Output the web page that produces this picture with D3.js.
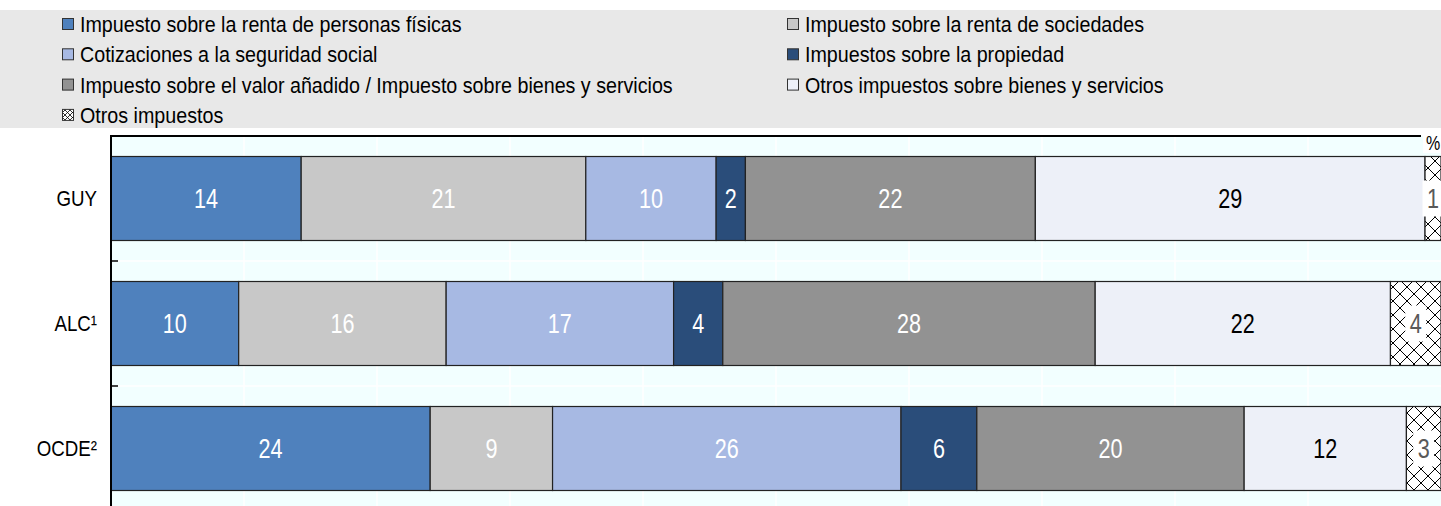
<!DOCTYPE html>
<html><head><meta charset="utf-8">
<script src="https://cdn.jsdelivr.net/npm/d3@7"></script>
<style>
body{margin:0;background:#fff}
svg{display:block}
text{font-family:"Liberation Sans",Arial,sans-serif}
</style>
</head><body>
<svg id="chart" width="1441" height="506"></svg>
<script>
// ---- data ----
const categories = ["GUY", "ALC¹", "OCDE²"];
const seriesNames = [
  "Impuesto sobre la renta de personas físicas",
  "Impuesto sobre la renta de sociedades",
  "Cotizaciones a la seguridad social",
  "Impuestos sobre la propiedad",
  "Impuesto sobre el valor añadido / Impuesto sobre bienes y servicios",
  "Otros impuestos sobre bienes y servicios",
  "Otros impuestos"
];
const valuesGUY  = [14.3, 21.4,  9.8, 2.2, 21.8, 29.3, 1.2];
const valuesALC  = [ 9.6, 15.6, 17.1, 3.7, 28.0, 22.2, 3.8];
const valuesOCDE = [24.0,  9.2, 26.2, 5.7, 20.1, 12.2, 2.6];
const xTicks = [0, 10, 20, 30, 40, 50, 60, 70, 80, 90, 100];
const unitLabel = "%";

// ---- styles ----
const colors = ["#4f81bd", "#c8c8c8", "#a7b9e3", "#2a4d7a", "#929292", "#edf0f8", "url(#hatch)"];
const labelColors = ["#fff", "#fff", "#fff", "#fff", "#fff", "#000", "#595959"];

const svg = d3.select("#chart");
const W = 1441, H = 506;
const mLeft = 111, mRight = 1441, mTop = 136;

// condensed text helper (scaled horizontally)
function ctext(parent, tx, ty, str, size, k, anchor, fill) {
  return parent.append("text")
    .attr("transform", `translate(${tx},${ty}) scale(${k},1)`)
    .attr("dy", "0.36em").attr("text-anchor", anchor)
    .attr("font-size", size).attr("fill", fill).text(str);
}

// hatch pattern
const defs = svg.append("defs");
const pat = defs.append("pattern").attr("id", "hatch").attr("patternUnits", "userSpaceOnUse")
  .attr("width", 14).attr("height", 14);
pat.append("rect").attr("width", 14).attr("height", 14).attr("fill", "#fff");
pat.append("path").attr("d", "M0,0L14,14M14,0L0,14").attr("stroke", "#000").attr("stroke-width", 1);
const pat2 = defs.append("pattern").attr("id", "hatchSmall").attr("patternUnits", "userSpaceOnUse")
  .attr("width", 5).attr("height", 5);
pat2.append("rect").attr("width", 5).attr("height", 5).attr("fill", "#fff");
pat2.append("path").attr("d", "M0,0L5,5M5,0L0,5").attr("stroke", "#000").attr("stroke-width", 0.8);

// legend background
svg.append("rect").attr("x", 0).attr("y", 10).attr("width", W).attr("height", 118).attr("fill", "#e8e8e8");

// legend
const leg = svg.append("g");
seriesNames.forEach((name, i) => {
  const col = i % 2, row = Math.floor(i / 2);
  const lx = col === 0 ? 62 : 787;
  const ly = 24 + row * 30.3;
  leg.append("rect").attr("x", lx + 0.5).attr("y", ly - 5.5).attr("width", 11).attr("height", 11)
    .attr("fill", i === 6 ? "url(#hatchSmall)" : colors[i]).attr("stroke", "#333").attr("stroke-width", 1);
  ctext(leg, lx + 18, ly, name, 22, 0.895, "start", "#000");
});

// scales
const x = d3.scaleLinear().domain([0, 100]).range([mLeft, mRight]);
const y = d3.scaleBand().domain(categories).range([mTop, mTop + 375]).paddingInner(0.328).paddingOuter(0.164);

// plot background
svg.append("rect").attr("x", mLeft).attr("y", mTop).attr("width", mRight - mLeft).attr("height", H - mTop).attr("fill", "#f2ffff");

// gridlines
svg.append("g").selectAll("line").data(xTicks.slice(1, -1)).join("line")
  .attr("x1", d => x(d)).attr("x2", d => x(d)).attr("y1", mTop).attr("y2", H)
  .attr("stroke", "#fff").attr("stroke-width", 1.5);
const bounds = categories.map(c => y(c) + y.bandwidth() + y.step() * y.paddingInner() / 2);
svg.append("g").selectAll("line").data(bounds).join("line")
  .attr("x1", mLeft).attr("x2", mRight).attr("y1", d => d).attr("y2", d => d)
  .attr("stroke", "#fff").attr("stroke-width", 1.5);

// data table
const table = categories.map((c, i) => {
  const vals = [valuesGUY, valuesALC, valuesOCDE][i];
  const o = { cat: c };
  seriesNames.forEach((s, j) => o[s] = vals[j]);
  return o;
});
const stack = d3.stack().keys(seriesNames)(table);

const gBars = svg.append("g");
stack.forEach((layer, si) => {
  gBars.append("g").selectAll("rect").data(layer).join("rect")
    .attr("x", d => x(d[0])).attr("y", d => y(d.data.cat))
    .attr("width", d => x(d[1]) - x(d[0])).attr("height", y.bandwidth())
    .attr("fill", colors[si]).attr("stroke", "#222").attr("stroke-width", 1.2);
});

// labels
const gLab = svg.append("g");
stack.forEach((layer, si) => {
  layer.forEach(d => {
    const cx = (x(d[0]) + x(d[1])) / 2;
    const cy = y(d.data.cat) + y.bandwidth() / 2;
    const txt = String(Math.round(d[1] - d[0]));
    if (si === 6) {
      const g = gLab.append("g");
      g.append("rect").attr("fill", "#fff")
        .attr("x", cx - 10.5).attr("y", cy - 18).attr("width", 21).attr("height", 36);
      ctext(g, cx, cy, txt, 27, 0.8, "middle", labelColors[si]);
    } else {
      ctext(gLab, cx, cy, txt, 27, 0.8, "middle", labelColors[si]);
    }
  });
});

// y axis
const yAxis = d3.axisLeft(y).tickSize(0).tickPadding(14);
const ga = svg.append("g").attr("transform", `translate(${mLeft},0)`).call(yAxis);
ga.select(".domain").remove();
ga.selectAll("text").attr("font-size", 22).attr("fill", "#000")
  .attr("x", -14 / 0.85).attr("transform", "scale(0.85,1)");

// category boundary ticks
svg.append("g").selectAll("line").data(bounds).join("line")
  .attr("x1", mLeft).attr("x2", mLeft + 7).attr("y1", d => d).attr("y2", d => d)
  .attr("stroke", "#000").attr("stroke-width", 1.5);

// axis lines
svg.append("line").attr("x1", mLeft).attr("x2", mLeft).attr("y1", mTop - 1).attr("y2", H).attr("stroke", "#000").attr("stroke-width", 2);
svg.append("line").attr("x1", mLeft).attr("x2", 1421).attr("y1", mTop).attr("y2", mTop).attr("stroke", "#000").attr("stroke-width", 2);

// unit label
svg.append("rect").attr("x", 1423).attr("y", 131).attr("width", 18).attr("height", 22).attr("fill", "#fff");
ctext(svg, 1433, 143, unitLabel, 20, 0.8, "middle", "#000");
</script>
</body></html>
